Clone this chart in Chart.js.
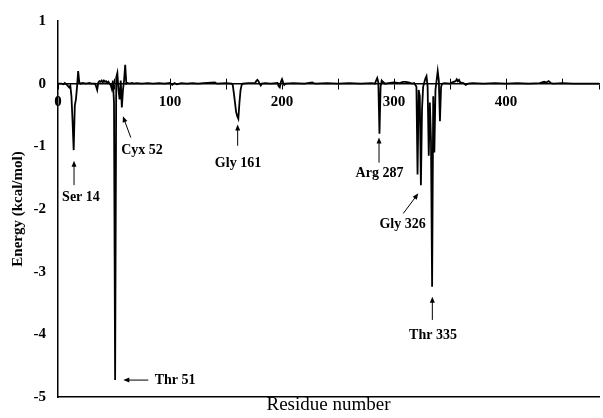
<!DOCTYPE html>
<html>
<head>
<meta charset="utf-8">
<script src="https://cdn.jsdelivr.net/npm/chart.js@4"></script>
<style>
  body { margin: 0; background: #fff; }
</style>
</head>
<body>
<canvas id="energyChart" width="603" height="418"></canvas>
<script>
// residue numbers and per-residue interaction energy (kcal/mol)
var residues = [0, 3, 5, 6, 8, 10, 11, 12, 13, 14, 15, 16, 17, 18, 19, 20, 22, 25, 28, 30,
  33, 34, 35, 36, 37, 38, 39, 40, 41, 42, 43, 44, 45, 46, 47, 48, 49, 50, 51, 52,
  53, 54, 55, 56, 57, 58, 59, 60, 61, 62, 64, 66, 68, 70, 75, 80, 85, 90, 95, 100,
  102, 104, 106, 110, 115, 120, 125, 130, 140, 142, 150, 155, 156, 157, 158, 159, 160, 161, 162, 163,
  164, 165, 170, 176, 177, 178, 179, 180, 181, 182, 185, 190, 196, 197, 198, 199, 200, 201, 202, 203,
  210, 220, 227, 228, 230, 240, 250, 260, 270, 280, 283, 284, 285, 286, 287, 288, 289, 290, 292, 295,
  300, 305, 308, 310, 313, 316, 318, 320, 321, 322, 323, 324, 325, 326, 327, 328, 329, 330, 331, 332,
  333, 334, 335, 336, 337, 338, 339, 340, 341, 342, 343, 345, 350, 352, 355, 356, 357, 358, 359, 362,
  364, 366, 370, 380, 390, 400, 410, 420, 430, 434, 436, 438, 440, 442, 450, 460, 470, 483];
var energies = [0, 0, -0.01, 0.01, -0.02, -0.06, -0.03, -0.2, -0.6, -1.06, -0.35, -0.25, -0.05, 0.2, 0.02, 0, 0.01, 0, 0.01, 0,
  0, -0.04, -0.1, 0.02, 0.04, 0.03, 0.05, 0.02, 0.05, 0.03, 0.04, 0.01, 0.03, 0, -0.02, -0.08, 0.05, -0.3, -4.73, 0.1,
  0.17, -0.1, -0.25, 0.05, -0.38, -0.1, 0.05, 0.3, 0, 0.01, 0, 0.01, 0, 0.01, 0, 0.01, 0, 0.01, 0, 0.01,
  -0.02, 0.01, -0.01, 0.01, 0, 0.01, 0, 0.01, 0.02, 0, 0.01, 0, -0.02, -0.15, -0.3, -0.45, -0.52, -0.56, -0.3, -0.1,
  -0.02, 0, 0.01, 0.01, 0.04, 0.06, 0.04, 0, -0.03, 0, 0.01, 0, 0.01, -0.04, -0.06, 0.03, 0.07, 0.02, -0.02, 0,
  0.01, 0, 0.02, 0.01, 0, 0.01, 0, 0.01, 0, 0.01, 0, 0.05, 0.09, 0.02, -0.8, -0.05, 0.05, 0.03, 0, 0.01,
  0.02, 0.01, 0.03, 0.03, 0.02, 0, 0.01, -0.05, -1.45, -0.1, -0.2, -1.62, -0.4, -0.05, 0.02, 0.08, 0.12, -0.05, -1.15, -0.3,
  -0.9, -3.24, -0.2, -1.1, -0.1, 0.05, 0.2, 0.05, -0.6, -0.05, 0, 0.01, 0, 0.02, 0.04, 0.07, 0.04, 0.06, 0.02, 0.01,
  -0.02, 0, 0.01, 0, 0.01, 0, 0.01, 0, 0.01, 0.03, 0.02, 0.04, 0.01, 0, 0.01, 0, 0, 0];

// labelled residues: arrow tip, arrow tail and text centre in data units
var hotspots = [
  { text: 'Ser 14',  tip: [14.3, -1.23],  tail: [14.3, -1.62],  at: [20.5, -1.81] },
  { text: 'Cyx 52',  tip: [58, -0.52],    tail: [65, -0.86],    at: [75, -1.07] },
  { text: 'Thr 51',  tip: [58.3, -4.73],  tail: [80.6, -4.73],  at: [104.5, -4.73] },
  { text: 'Gly 161', tip: [160.4, -0.65], tail: [160.4, -0.99], at: [160.7, -1.28] },
  { text: 'Arg 287', tip: [286.6, -0.86], tail: [286.6, -1.26], at: [287, -1.43] },
  { text: 'Gly 326', tip: [321.7, -1.75], tail: [308.3, -2.07], at: [307.6, -2.25] },
  { text: 'Thr 335', tip: [334.2, -3.40], tail: [334.2, -3.77], at: [334.8, -4.01] }
];

var points = residues.map(function (r, i) { return { x: r, y: energies[i] }; });
var serif = '"Liberation Serif", "Times New Roman", serif';

// upper half of the cross ticks on the zero line, plus the arrows and residue names
var markup = {
  id: 'markup',
  afterDraw: function (chart) {
    var ctx = chart.ctx, x = chart.scales.x, y = chart.scales.y;
    var y0 = y.getPixelForValue(0);
    ctx.save();
    ctx.strokeStyle = '#000';
    ctx.fillStyle = '#000';
    ctx.lineWidth = 1;
    for (var v = 50; v <= x.max; v += 50) {
      var px = Math.round(x.getPixelForValue(v)) + 0.5;
      ctx.beginPath();
      ctx.moveTo(px, y0 - 5);
      ctx.lineTo(px, y0);
      ctx.stroke();
    }
    ctx.font = 'bold 14px ' + serif;
    ctx.textAlign = 'center';
    ctx.textBaseline = 'middle';
    hotspots.forEach(function (h) {
      var tx = x.getPixelForValue(h.tip[0]), ty = y.getPixelForValue(h.tip[1]);
      var sx = x.getPixelForValue(h.tail[0]), sy = y.getPixelForValue(h.tail[1]);
      var ang = Math.atan2(ty - sy, tx - sx);
      ctx.beginPath();
      ctx.moveTo(sx, sy);
      ctx.lineTo(tx - 4 * Math.cos(ang), ty - 4 * Math.sin(ang));
      ctx.stroke();
      ctx.beginPath();
      ctx.moveTo(tx, ty);
      ctx.lineTo(tx - 6 * Math.cos(ang) + 2.5 * Math.sin(ang), ty - 6 * Math.sin(ang) - 2.5 * Math.cos(ang));
      ctx.lineTo(tx - 6 * Math.cos(ang) - 2.5 * Math.sin(ang), ty - 6 * Math.sin(ang) + 2.5 * Math.cos(ang));
      ctx.closePath();
      ctx.fill();
      ctx.fillText(h.text, x.getPixelForValue(h.at[0]), y.getPixelForValue(h.at[1]));
    });
    ctx.restore();
  }
};

var ctx = document.getElementById('energyChart').getContext('2d');
var chart = new Chart(ctx, {
  type: 'line',
  data: {
    datasets: [{
      data: points,
      borderColor: '#000',
      borderWidth: 1.8,
      pointRadius: 0,
      tension: 0,
      fill: false
    }]
  },
  options: {
    responsive: false,
    animation: false,
    layout: { padding: { top: 18, right: 0, bottom: 0, left: 0 } },
    plugins: { legend: { display: false }, tooltip: { enabled: false } },
    scales: {
      x: {
        type: 'linear',
        position: { y: 0 },
        min: 0,
        max: 483,
        grid: { drawOnChartArea: false, drawTicks: true, tickLength: 5, color: '#000', lineWidth: 1 },
        border: { display: true, color: '#000', width: 1.5 },
        ticks: {
          stepSize: 50,
          autoSkip: false,
          maxRotation: 0,
          padding: 4,
          color: '#000',
          font: { family: serif, weight: 'bold', size: 15 },
          callback: function (v) { return v % 100 === 0 ? v : ''; }
        }
      },
      x2: {
        type: 'linear',
        position: 'bottom',
        min: 0,
        max: 483,
        grid: { display: false },
        ticks: { display: false },
        border: { display: true, color: '#000', width: 1.5 },
        title: {
          display: true,
          text: 'Residue number',
          color: '#000',
          padding: { top: 0, bottom: 0 },
          font: { family: serif, size: 19, lineHeight: 1 }
        },
        afterFit: function (s) { s.height = 18; }
      },
      y: {
        min: -5,
        max: 1,
        grid: { display: false, drawTicks: false },
        border: { display: true, color: '#000', width: 1.5 },
        ticks: {
          stepSize: 1,
          padding: 12,
          color: '#000',
          font: { family: serif, weight: 'bold', size: 15 }
        },
        title: {
          display: true,
          text: 'Energy (kcal/mol)',
          color: '#000',
          padding: { top: 9, bottom: 0 },
          font: { family: serif, weight: 'bold', size: 15 }
        },
        afterFit: function (s) { s.width = 58; }
      }
    }
  },
  plugins: [markup]
});
</script>
</body>
</html>
